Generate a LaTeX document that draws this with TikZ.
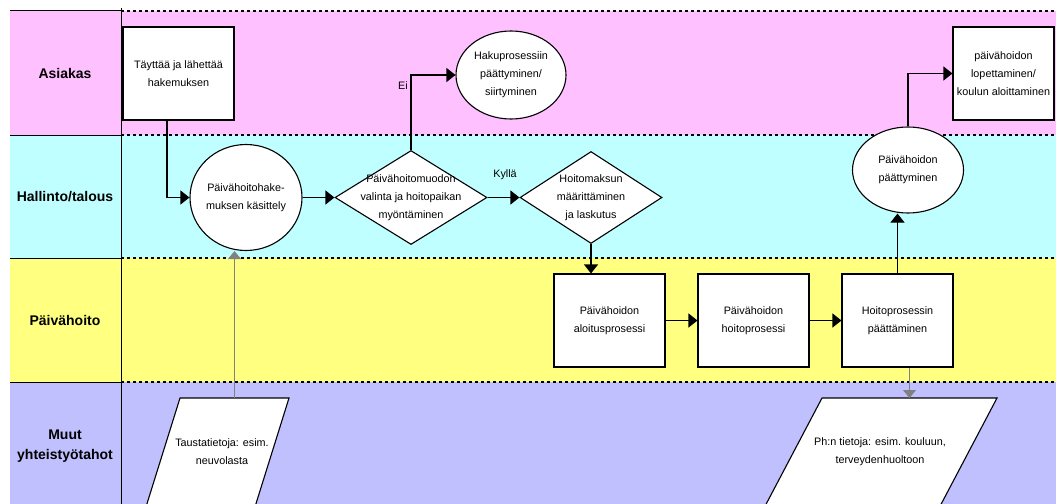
\documentclass[tikz,border=0pt]{standalone}
\usepackage{fontspec}
\setmainfont{Liberation Sans}
\usetikzlibrary{shapes.geometric,arrows.meta}
\definecolor{laneA}{RGB}{255,192,255}
\definecolor{laneB}{RGB}{192,255,255}
\definecolor{laneC}{RGB}{255,255,128}
\definecolor{laneD}{RGB}{192,192,255}
\definecolor{infogray}{RGB}{128,128,128}
\begin{document}
\begin{tikzpicture}[x=1pt,y=-1pt,
  txt/.style={font=\fontsize{10.8}{18}\selectfont, align=center, inner sep=0pt},
  lanelabel/.style={font=\bfseries\fontsize{14}{20}\selectfont, align=center},
  procbox/.style={draw, line width=1.1pt, fill=white, minimum width=111pt, minimum height=93pt, inner sep=2pt, txt},
  endell/.style={draw, ellipse, line width=1.1pt, fill=white, inner sep=0pt},
  decide/.style={draw, diamond, line width=1.1pt, fill=white, inner sep=0pt},
  arr/.style={line width=1.1pt, -{Triangle[length=9pt,width=14pt]}},
  infoarr/.style={line width=1pt, draw=infogray, -{Triangle[length=8pt,width=13pt,fill=infogray]}},
  lanesep/.style={line width=1.1pt, dash pattern=on 3pt off 3pt},
  colsep/.style={line width=1pt},
  infoshape/.style={draw, line width=1.1pt, fill=white}
]
\useasboundingbox (0,0) rectangle (1056,503);
\clip (0,0) rectangle (1056,503);

% swimlane backgrounds
\fill[laneA] (10,11) rectangle (1056,135);
\fill[laneB] (10,135) rectangle (1056,258);
\fill[laneC] (10,258) rectangle (1056,382);
\fill[laneD] (10,382) rectangle (1056,510);

% lane borders: solid in the header column, dashed across the lanes
\foreach \yy in {11,135,258,382} {
  \draw[colsep] (10,\yy) -- (121,\yy);
  \draw[lanesep] (121,\yy) -- (1056,\yy);
}
\draw[colsep] (121,8) -- (121,510);

% lane titles
\node[lanelabel] (lA) at (65,73) {Asiakas};
\node[lanelabel] (lB) at (65,197) {Hallinto/talous};
\node[lanelabel] (lC) at (65,320) {Päivähoito};
\node[lanelabel] (lD) at (65,446) {Muut\\yhteistyötahot};

% input data shapes running off the bottom edge
\draw[infoshape] (180,398) -- (289,398) -- (254,510) -- (145,510) -- cycle;
\coordinate (para1) at (234.5,398);
\node[txt] (para1txt) at (222,452) {Taustatietoja: esim.\\neuvolasta};

\draw[infoshape] (822,398) -- (997,398) -- (938,510) -- (763,510) -- cycle;
\coordinate (para2) at (909.5,398);
\node[txt] (para2txt) at (880,452) {Ph:n tietoja: esim. kouluun,\\terveydenhuoltoon};

% process steps
\node[procbox] (box1) at (178.5,73.5) {Täyttää ja lähettää\\hakemuksen};
\node[procbox, minimum width=101pt] (box4) at (1003.5,73.5) {päivähoidon\\lopettaminen/\\koulun aloittaminen};
\node[procbox] (boxa) at (609.5,320.5) {Päivähoidon\\aloitusprosessi};
\node[procbox] (boxb) at (753.5,320.5) {Päivähoidon\\hoitoprosessi};
\node[procbox] (boxc) at (897.5,320.5) {Hoitoprosessin\\päättäminen};

% ellipses
\node[endell, minimum width=112pt, minimum height=106pt,
      label={[txt]center:{Päivähoitohake-\\muksen käsittely}}] (ell1) at (246,197.5) {};
\node[endell, minimum width=110pt, minimum height=88pt,
      label={[txt]center:{Hakuprosessiin\\päättyminen/\\siirtyminen}}] (ell2) at (511,75) {};
\node[endell, minimum width=111pt, minimum height=86pt,
      label={[txt]center:{Päivähoidon\\päättyminen}}] (ell3) at (908,170) {};

% decisions
\node[decide, minimum width=152pt, minimum height=94pt,
      label={[txt]center:{Päivähoitomuodon\\valinta ja hoitopaikan\\myöntäminen}}] (dia1) at (411,197.5) {};
\node[decide, minimum width=142pt, minimum height=92pt,
      label={[txt]center:{Hoitomaksun\\määrittäminen\\ja laskutus}}] (dia2) at (591,197.5) {};

% flow
\draw[arr] ([xshift=-11.5pt]box1.south) |- (ell1.west);
\draw[arr] (ell1.east) -- (dia1.west);
\draw[arr] (dia1.north) |- (ell2.west);
\node[txt] (ei) at (403,86) {Ei};
\draw[arr] (dia1.east) -- (dia2.west);
\node[txt] (kylla) at (505,175) {Kyllä};
\draw[arr] (dia2.south) -- (dia2.south |- boxa.north);
\draw[arr] (boxa.east) -- (boxb.west);
\draw[arr] (boxb.east) -- (boxc.west);
\draw[arr] (boxc.north) -- (boxc.north |- ell3.south);
\draw[arr] (ell3.north) |- (box4.west);

% information flows
\draw[infoarr] (para1) -- (para1 |- ell1.south);
\draw[infoarr] (para2 |- boxc.south) -- (para2);
\end{tikzpicture}
\end{document}
